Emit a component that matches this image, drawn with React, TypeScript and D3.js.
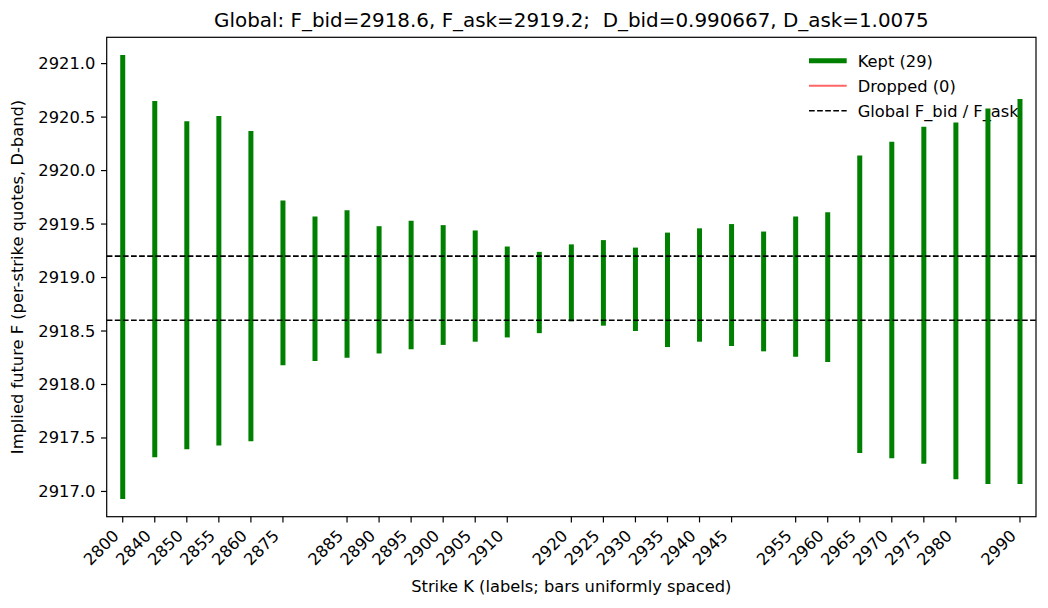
import React from "react";
import * as d3 from "d3";

// Strike labels for each uniformly spaced bar ("" = tick not drawn)
const tickLabels: string[] = [
  "2800", "2840", "2850", "2855", "2860", "2875", "", "2885", "2890", "2895",
  "2900", "2905", "2910", "", "2920", "2925", "2930", "2935", "2940", "2945",
  "", "2955", "2960", "2965", "2970", "2975", "2980", "", "2990",
];

// Per-strike implied future band: low (bid side) and high (ask side)
const fLow: number[] = [
  2916.93, 2917.32, 2917.395, 2917.43, 2917.47, 2918.18, 2918.22, 2918.25, 2918.29, 2918.33,
  2918.37, 2918.40, 2918.44, 2918.48, 2918.59, 2918.55, 2918.50, 2918.35, 2918.40, 2918.36,
  2918.31, 2918.26, 2918.21, 2917.36, 2917.31, 2917.26, 2917.115, 2917.07, 2917.07,
];
const fHigh: number[] = [
  2921.08, 2920.65, 2920.46, 2920.51, 2920.37, 2919.72, 2919.57, 2919.63, 2919.48, 2919.53,
  2919.49, 2919.44, 2919.29, 2919.24, 2919.31, 2919.35, 2919.28, 2919.42, 2919.46, 2919.50,
  2919.43, 2919.57, 2919.61, 2920.14, 2920.27, 2920.41, 2920.45, 2920.58, 2920.67,
];

const globalFBid = 2918.6;
const globalFAsk = 2919.2;
const globalDBid = "0.990667";
const globalDAsk = "1.0075";

const yTicks: number[] = [2917.0, 2917.5, 2918.0, 2918.5, 2919.0, 2919.5, 2920.0, 2920.5, 2921.0];

const W = 1048;
const H = 608;
const M = { left: 106.7, right: 1036, top: 37.3, bottom: 516.7 };
const FONT = "DejaVu Sans, sans-serif";
const GREEN = "#008000";
const FS = 16.3;
const TICK = 5.7;

export default function App() {
  const n = fLow.length;
  const x = d3.scaleLinear().domain([-0.5, n - 0.5]).range([M.left, M.right]);
  const lo = d3.min(fLow)!;
  const hi = d3.max(fHigh)!;
  const pad = (hi - lo) * 0.04;
  const y = d3.scaleLinear().domain([lo - pad, hi + pad]).range([M.bottom, M.top]);

  const legendX = 809;
  const legendRows = [60.7, 85.7, 110.7];

  return (
    <svg
      width={W}
      height={H}
      style={{ position: "absolute", left: 0, top: 0, background: "#fff" }}
      fontFamily={FONT}
    >
      <rect x={0} y={0} width={W} height={H} fill="#fff" />

      {/* legend (no frame) */}
      <g fontSize={FS} fill="#000">
        <line x1={legendX} x2={legendX + 37.7} y1={legendRows[0]} y2={legendRows[0]} stroke={GREEN} strokeWidth={5} />
        <text x={legendX + 48.7} y={legendRows[0] + 5.8}>Kept ({n})</text>
        <line x1={legendX} x2={legendX + 37.7} y1={legendRows[1]} y2={legendRows[1]} stroke="red" strokeOpacity={0.6} strokeWidth={2} />
        <text x={legendX + 48.7} y={legendRows[1] + 5.8}>Dropped (0)</text>
        <line x1={legendX} x2={legendX + 37.7} y1={legendRows[2]} y2={legendRows[2]} stroke="#000" strokeWidth={1.6} strokeDasharray="5.7,2.4" />
        <text x={legendX + 48.7} y={legendRows[2] + 5.8}>Global F_bid / F_ask</text>
      </g>

      {/* per-strike bands */}
      <g>
        {fLow.map((l, i) => (
          <line
            key={i}
            x1={x(i)}
            x2={x(i)}
            y1={y(l)}
            y2={y(fHigh[i])}
            stroke={GREEN}
            strokeWidth={5}
          />
        ))}
      </g>

      {/* global bid / ask */}
      {[globalFBid, globalFAsk].map((v, i) => (
        <line
          key={i}
          x1={M.left}
          x2={M.right}
          y1={y(v)}
          y2={y(v)}
          stroke="#000"
          strokeWidth={1.6}
          strokeDasharray="5.7,2.4"
        />
      ))}

      {/* frame */}
      <rect
        x={M.left}
        y={M.top}
        width={M.right - M.left}
        height={M.bottom - M.top}
        fill="none"
        stroke="#000"
        strokeWidth={1.2}
      />

      {/* y axis */}
      <g fontSize={FS}>
        {yTicks.map((t) => (
          <g key={t}>
            <line x1={M.left - TICK} x2={M.left} y1={y(t)} y2={y(t)} stroke="#000" strokeWidth={1.2} />
            <text x={M.left - 2 * TICK} y={y(t)} textAnchor="end" dominantBaseline="central">
              {t.toFixed(1)}
            </text>
          </g>
        ))}
      </g>

      {/* x axis */}
      <g fontSize={FS}>
        {tickLabels.map((lab, i) =>
          lab === "" ? null : (
            <g key={i}>
              <line x1={x(i)} x2={x(i)} y1={M.bottom} y2={M.bottom + TICK} stroke="#000" strokeWidth={1.2} />
              <text
                transform={`translate(${x(i) - 2.8},${M.bottom + 2 * TICK + 8.8}) rotate(-45)`}
                textAnchor="end"
              >
                {lab}
              </text>
            </g>
          )
        )}
      </g>

      {/* labels */}
      <text
        x={(M.left + M.right) / 2}
        y={591.5}
        textAnchor="middle"
        fontSize={FS}
      >
        Strike K (labels; bars uniformly spaced)
      </text>
      <text
        transform={`translate(22.5,${(M.top + M.bottom) / 2}) rotate(-90)`}
        textAnchor="middle"
        fontSize={FS}
      >
        Implied future F (per-strike quotes, D-band)
      </text>
      <text
        x={(M.left + M.right) / 2}
        y={26.5}
        textAnchor="middle"
        fontSize={19.9}
        style={{ whiteSpace: "pre" }}
      >
        {`Global: F_bid=${globalFBid}, F_ask=${globalFAsk};  D_bid=${globalDBid}, D_ask=${globalDAsk}`}
      </text>
    </svg>
  );
}
